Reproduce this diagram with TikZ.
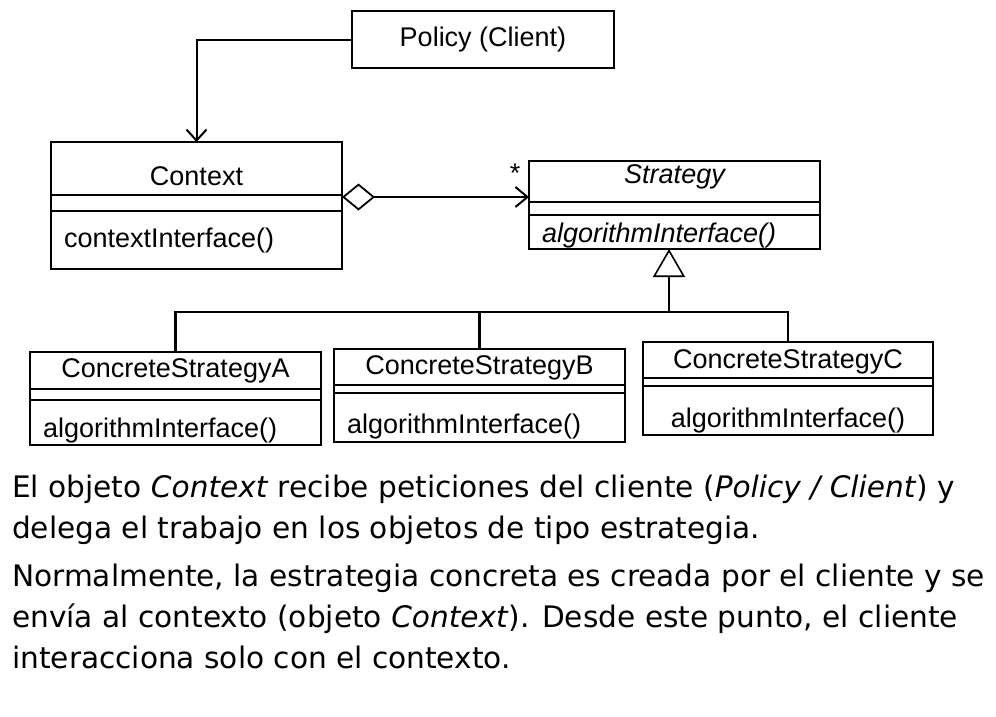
\documentclass[tikz,border=0pt]{standalone}
\usepackage{fontspec}
\setmainfont{Liberation Sans}
\newfontfamily\notefont{DejaVu Sans}
\usepackage{tikz}
\usetikzlibrary{positioning,arrows.meta}

\begin{document}
\begin{tikzpicture}[x=1pt, y=-1pt,
        box/.style={draw, line width=2.6pt, outer sep=0pt, inner sep=0pt, minimum width=291pt, text height=20pt, text depth=6pt, font=\fontsize{27}{32}\selectfont},
        ops/.style={box, inner xsep=13pt, text width=265pt, align=left},
        link/.style={line width=2pt},
        inherit/.style={line width=2.6pt},
        note/.style={align=left, inner sep=0pt, font=\notefont\fontsize{29.6}{40.8}\selectfont}]
        \useasboundingbox (0,0) rectangle (996,716);

        % client and context
        \node[box, minimum width=262pt, minimum height=57pt, anchor=north west] (policy) at (352,11) {Policy (Client)};
        \node[box, minimum height=53pt, text height=39pt, anchor=north west] (ctx) at (51,142) {Context};
        \node[box, minimum height=16pt, text height=0pt, text depth=0pt, below = 0mm of ctx] (ctxattr) {};
        \node[ops, minimum height=58pt, below = 0mm of ctxattr] (ctxop) {contextInterface()};

        % abstract strategy
        \node[box, minimum height=41pt, text height=9pt, anchor=north west] (strat) at (529,161) {\itshape Strategy};
        \node[box, minimum height=13pt, text height=0pt, text depth=0pt, below = 0mm of strat] (stratattr) {};
        \node[ops, minimum height=34pt, text height=26pt, below = 0mm of stratattr] (stratop) {\itshape algorithmInterface()};

        % concrete strategies
        \node[box, minimum height=37pt, anchor=north west] (csa) at (30,352) {ConcreteStrategyA};
        \node[box, minimum height=11pt, text height=0pt, text depth=0pt, below = 0mm of csa] (csaattr) {};
        \node[ops, minimum height=45pt, text height=35pt, below = 0mm of csaattr] (csaop) {algorithmInterface()};

        \node[box, minimum height=36pt, anchor=north west] (csb) at (334,349) {ConcreteStrategyB};
        \node[box, minimum height=8pt, text height=0pt, text depth=0pt, below = 0mm of csb] (csbattr) {};
        \node[ops, minimum height=49pt, text height=37pt, below = 0mm of csbattr] (csbop) {algorithmInterface()};

        \node[box, minimum width=290pt, minimum height=36pt, text height=22pt, anchor=north west] (csc) at (643,342) {ConcreteStrategyC};
        \node[box, minimum width=290pt, minimum height=8pt, text height=0pt, text depth=0pt, below = 0mm of csc] (cscattr) {};
        \node[box, minimum width=290pt, minimum height=49pt, text height=39pt, below = 0mm of cscattr] (cscop) {algorithmInterface()};

        % connectors
        \draw[link, -{Straight Barb[length=11pt, width=20pt]}] (policy.west) -| (ctx.north);
        \coordinate (agg) at ([yshift=-2pt]ctx.south east);
        \draw[link, {Diamond[open, length=33pt, width=27pt, line width=1.8pt]}-{Straight Barb[length=12pt, width=20pt]}] (agg) -- (agg -| strat.west)
            node[anchor=base, xshift=-14pt, yshift=15pt, font=\fontsize{27}{32}\selectfont] (many) {*};
        \coordinate (join) at (669,312);
        \draw[inherit, -{Triangle[open, length=28pt, width=32pt, line width=1.6pt]}] (join) -- (join |- stratop.south);
        \draw[inherit] (csa.north) |- (join);
        \draw[inherit] (csb.north) |- (join);
        \draw[inherit] (csc.north) |- (join);

        % explanation
        \node[note, anchor=base west] (par1) at (12,538) {El objeto \textit{Context} recibe peticiones del cliente (\textit{Policy / Client}) y\\delega el trabajo en los objetos de tipo estrategia.};
        \node[note, anchor=base west] (par2) at (12,668) {Normalmente, la estrategia concreta es creada por el cliente y se\\envía al contexto (objeto \textit{Context}). Desde este punto, el cliente\\interacciona solo con el contexto.};
    \end{tikzpicture}
\end{document}
